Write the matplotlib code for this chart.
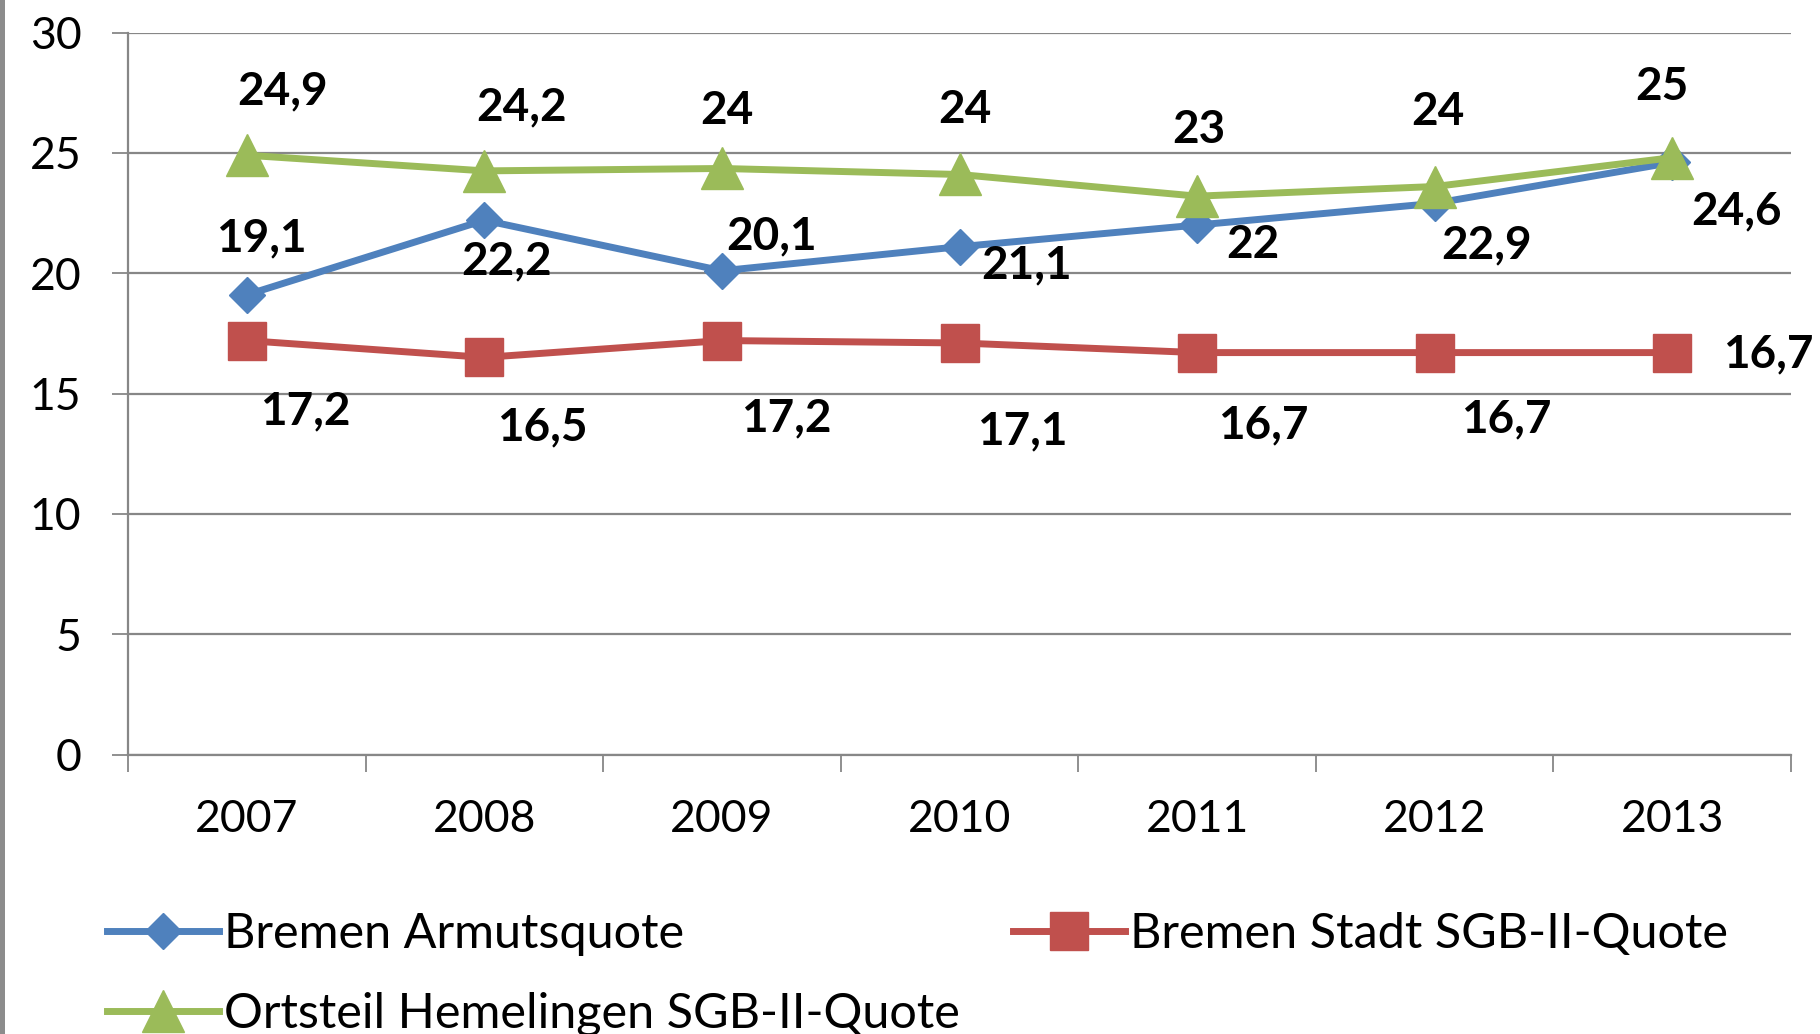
import numpy as np
import matplotlib
matplotlib.use("Agg")
from matplotlib import pyplot as plt
from matplotlib.patches import Rectangle

plt.rcParams['font.family'] = ['Lato', 'DejaVu Sans']

jahre = ["2007", "2008", "2009", "2010", "2011", "2012", "2013"]
armut = [19.1, 22.2, 20.1, 21.1, 22.0, 22.9, 24.6]
stadt_sgb = [17.2, 16.5, 17.2, 17.1, 16.7, 16.7, 16.7]
hemelingen_sgb = [24.9, 24.25, 24.35, 24.1, 23.2, 23.6, 24.8]

armut_labels = ["19,1", "22,2", "20,1", "21,1", "22", "22,9", "24,6"]
stadt_labels = ["17,2", "16,5", "17,2", "17,1", "16,7", "16,7", "16,7"]
hemelingen_labels = ["24,9", "24,2", "24", "24", "23", "24", "25"]

namen = ["Bremen Armutsquote", "Bremen Stadt SGB-II-Quote",
         "Ortsteil Hemelingen SGB-II-Quote"]

# versatz der datenbeschriftungen in pixeln (wie im original verschoben)
off_armut = [(15, 56), (22, -41), (50, 34), (67, -19), (56, -20), (52, -42), (64, -49)]
off_stadt = [(58, -71), (58, -70), (64, -78), (63, -88), (66, -73), (72, -67), (96, -2)]
off_hemel = [(36, 64), (37, 63), (5, 57), (5, 64), (2, 66), (3, 75), (-10, 71)]

blau = "#4F81BD"
rot = "#C0504D"
gruen = "#9BBB59"
grau = "#878787"

fig = plt.figure(figsize=(18.2, 10.34), dpi=100)
ax = fig.add_axes([128 / 1820, 1 - 754.5 / 1034, (1791 - 128) / 1820, (754.5 - 32.5) / 1034])

x = np.arange(len(jahre))
l1, = ax.plot(x, armut, color=blau, lw=5, marker="D", ms=18, zorder=3)
l2, = ax.plot(x, stadt_sgb, color=rot, lw=5, marker="s", ms=28, zorder=3)
l3, = ax.plot(x, hemelingen_sgb, color=gruen, lw=5, marker="^", ms=30, zorder=4)

for werte, labels, offs in [(armut, armut_labels, off_armut),
                            (stadt_sgb, stadt_labels, off_stadt),
                            (hemelingen_sgb, hemelingen_labels, off_hemel)]:
    for i in range(len(werte)):
        ax.annotate(labels[i], (x[i], werte[i]), xytext=offs[i], textcoords="offset pixels",
                    ha="center", va="center", fontsize=33, fontweight="bold",
                    color="black", annotation_clip=False, zorder=5)

ax.set_xlim(-0.5, len(jahre) - 0.5)
ax.set_ylim(0, 30)
ax.set_yticks(np.arange(0, 31, 5))
ax.yaxis.grid(True, color=grau, lw=1.6)
ax.set_axisbelow(True)

ax.set_xticks(np.arange(-0.5, len(jahre), 1))
ax.set_xticklabels([])
ax.set_xticks(x, minor=True)
ax.set_xticklabels(jahre, minor=True)
ax.tick_params(axis="x", which="major", direction="out", length=12, width=1.3, color=grau)
ax.tick_params(axis="x", which="minor", length=0, pad=32, labelsize=32)
ax.tick_params(axis="y", direction="out", length=11.5, width=1.3, color=grau, pad=22, labelsize=32)

for s in ["top", "right"]:
    ax.spines[s].set_visible(False)
for s in ["left", "bottom"]:
    ax.spines[s].set_color(grau)
    ax.spines[s].set_linewidth(1.6)

leg = fig.legend([l1, l3, l2], [namen[0], namen[2], namen[1]], ncol=2,
                 loc="upper left", bbox_to_anchor=(107 / 1820, 1 - 912 / 1034),
                 frameon=False, fontsize=35, handlelength=2.3, handletextpad=0.1,
                 columnspacing=1.1, labelspacing=0.74, borderaxespad=0, borderpad=0)

# grauer rand links
fig.add_artist(Rectangle((0, 0), 5 / 1820, 1, transform=fig.transFigure,
                         color="#8c8c8c", lw=0))

fig.savefig("out.png", dpi=100)
